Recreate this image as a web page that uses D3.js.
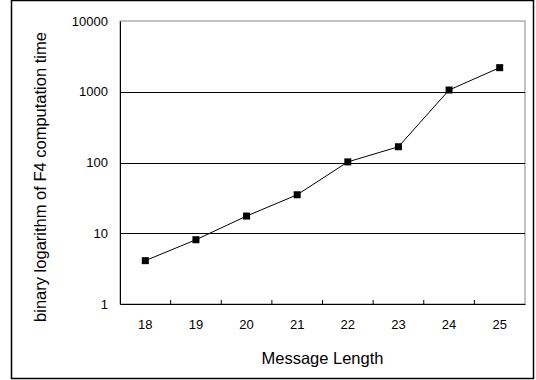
<!DOCTYPE html>
<html>
<head>
<meta charset="utf-8">
<script src="https://cdn.jsdelivr.net/npm/d3@7"></script>
<style>
  body { margin: 0; background: #fff; }
  text { font-family: "Liberation Sans", Arial, sans-serif; fill: #000; }
</style>
</head>
<body>
<div id="chart"></div>
<script>
// data
const lengths = [18, 19, 20, 21, 22, 23, 24, 25];
const times = [4.1, 8.1, 17.5, 35, 102, 167, 1058, 2190];
const yTicks = [1, 10, 100, 1000, 10000];

const width = 536, height = 380;
const margin = [21, 76, 120, 11]; // top, bottom, left, right

const svg = d3.select('#chart').append('svg')
    .attr('width', width)
    .attr('height', height);

// outer frame
svg.append('rect')
    .attr('x', 11.5).attr('y', 0.5)
    .attr('width', 522).attr('height', 378)
    .attr('fill', 'none')
    .attr('stroke', '#000')
    .attr('stroke-width', 1.5);

const x = d3.scaleBand(lengths, [margin[2], width - margin[3]]);
const y = d3.scaleLog([1, 10000], [height - margin[1], margin[0]]);

// plot area border (grey)
svg.append('rect')
    .attr('x', margin[2]).attr('y', margin[0])
    .attr('width', x.range()[1] - margin[2])
    .attr('height', y(1) - y(10000))
    .attr('fill', 'none')
    .attr('stroke', '#888');

// grid lines
svg.append('g').selectAll('line')
    .data(yTicks.slice(1, -1))
    .join('line')
    .attr('x1', margin[2]).attr('x2', x.range()[1])
    .attr('y1', d => Math.round(y(d)) + 0.5).attr('y2', d => Math.round(y(d)) + 0.5)
    .attr('stroke', '#000');

// y axis
const axisY = svg.append('g')
    .attr('transform', `translate(${margin[2]},0)`)
    .call(d3.axisLeft(y).tickValues(yTicks).tickFormat(d3.format('d')).tickSize(0).tickPadding(12));
axisY.select('.domain').attr('stroke', '#000');
axisY.selectAll('text').style('font-size', '13px');

// x axis, ticks between categories pointing inward
const axisX = svg.append('g')
    .attr('transform', `translate(0,${height - margin[1]})`)
    .call(d3.axisBottom(x).tickSize(0).tickPadding(16));
axisX.select('.domain').attr('stroke', '#000');
axisX.selectAll('text').style('font-size', '13px');
axisX.selectAll('line.sep')
    .data(lengths.slice(1))
    .join('line')
    .classed('sep', true)
    .attr('x1', d => x(d)).attr('x2', d => x(d))
    .attr('y1', 0).attr('y2', -4)
    .attr('stroke', '#000');

// series line
const line = d3.line()
    .x((d, i) => x(lengths[i]) + x.bandwidth() / 2)
    .y(d => y(d));
svg.append('path')
    .datum(times)
    .attr('d', line)
    .attr('fill', 'none')
    .attr('stroke', '#000')
    .attr('stroke-width', 1);

// square markers
svg.append('g').selectAll('rect')
    .data(times)
    .join('rect')
    .attr('x', (d, i) => x(lengths[i]) + x.bandwidth() / 2 - 3.5)
    .attr('y', d => y(d) - 3.5)
    .attr('width', 7).attr('height', 7)
    .attr('fill', '#000');

// axis labels
svg.append('text')
    .attr('x', (margin[2] + x.range()[1]) / 2)
    .attr('y', 364)
    .attr('text-anchor', 'middle')
    .style('font-size', '16.5px')
    .text('Message Length');

svg.append('text')
    .attr('transform', 'translate(46,177)rotate(-90)')
    .attr('text-anchor', 'middle')
    .style('font-size', '16.5px')
    .text('binary logarithm of F4 computation time');
</script>
</body>
</html>
